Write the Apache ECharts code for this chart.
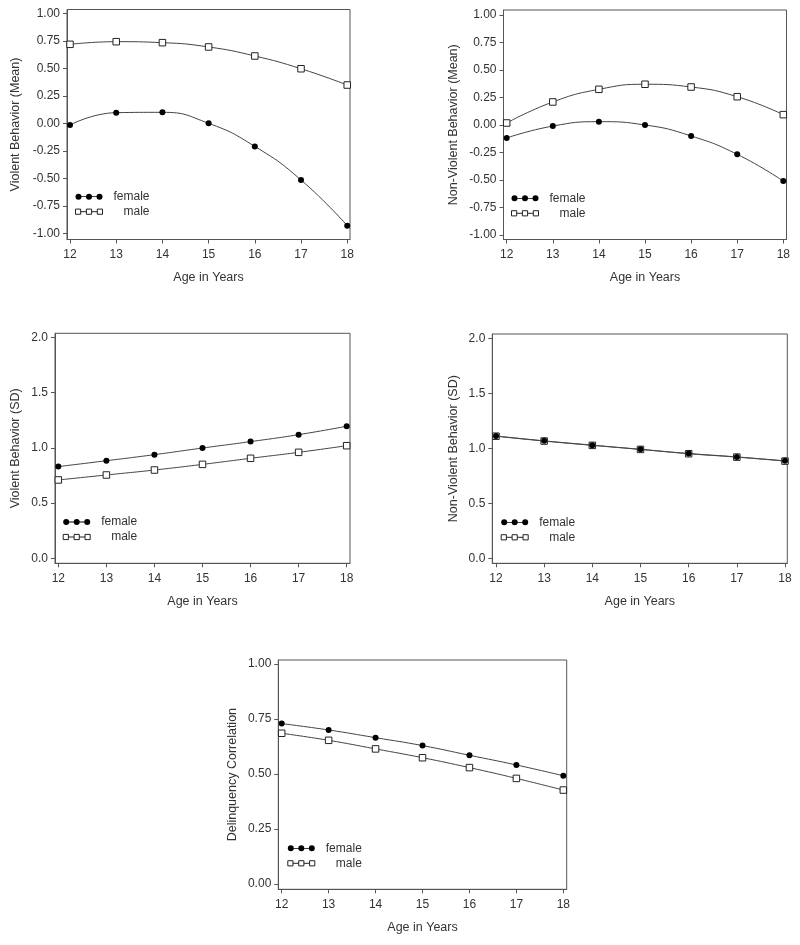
<!DOCTYPE html>
<html>
<head>
<meta charset="utf-8">
<script src="https://cdn.jsdelivr.net/npm/echarts@6/dist/echarts.min.js"></script>
<style>
html,body{margin:0;padding:0;background:#fff;}
#chart{width:800px;height:945px;}
</style>
</head>
<body>
<div id="chart"></div>
<script>
// ---- data ----
var ages = [12, 13, 14, 15, 16, 17, 18];
var seriesNames = ['female', 'male'];

var violentMeanFemale = [-0.015, 0.097, 0.10, 0.0, -0.21, -0.515, -0.93];
var violentMeanMale = [0.718, 0.742, 0.733, 0.694, 0.612, 0.496, 0.348];

var nonViolentMeanFemale = [-0.118, -0.01, 0.03, 0.0, -0.10, -0.267, -0.51];
var nonViolentMeanMale = [0.018, 0.209, 0.324, 0.37, 0.345, 0.257, 0.094];

var violentSDFemale = [0.83, 0.883, 0.938, 0.998, 1.056, 1.119, 1.195];
var violentSDMale = [0.709, 0.754, 0.799, 0.850, 0.905, 0.959, 1.019];

var nonViolentSDFemale = [1.112, 1.068, 1.029, 0.991, 0.953, 0.922, 0.886];
var nonViolentSDMale = [1.110, 1.066, 1.027, 0.990, 0.951, 0.920, 0.884];

var corrFemale = [0.729, 0.70, 0.665, 0.629, 0.585, 0.541, 0.492];
var corrMale = [0.685, 0.653, 0.614, 0.574, 0.529, 0.480, 0.427];

var meanTicks = [-1.00, -0.75, -0.50, -0.25, 0.00, 0.25, 0.50, 0.75, 1.00];
var sdTicks = [0.0, 0.5, 1.0, 1.5, 2.0];
var corrTicks = [0.00, 0.25, 0.50, 0.75, 1.00];

var xAxisTitle = 'Age in Years';
var yTitles = ['Violent Behavior (Mean)', 'Non-Violent Behavior (Mean)', 'Violent Behavior (SD)', 'Non-Violent Behavior (SD)', 'Delinquency Correlation'];

// ---- layout ----
var FONT = '"Liberation Sans", Arial, sans-serif';
var TEXT = '#333';
var AXIS = '#555';

var panels = [
  {grid: {left: 67, top: 9.5, width: 283, height: 230}, x: [11.935, 18.06], y: [-1.056, 1.0345], ticks: meanTicks, dec: 2, yGap: 45, female: violentMeanFemale, male: violentMeanMale, legend: {left: 75, top: 190.7}},
  {grid: {left: 503.5, top: 10, width: 283, height: 229.5}, x: [11.931, 18.069], y: [-1.041, 1.045], ticks: meanTicks, dec: 2, yGap: 43.5, female: nonViolentMeanFemale, male: nonViolentMeanMale, legend: {left: 511, top: 192.3}},
  {grid: {left: 55, top: 333.3, width: 295, height: 230}, x: [11.931, 18.069], y: [-0.045, 2.036], ticks: sdTicks, dec: 1, yGap: 33, female: violentSDFemale, male: violentSDMale, legend: {left: 62.7, top: 516}},
  {grid: {left: 492.3, top: 334, width: 295, height: 229.3}, x: [11.923, 18.048], y: [-0.045, 2.039], ticks: sdTicks, dec: 1, yGap: 32.5, female: nonViolentSDFemale, male: nonViolentSDMale, legend: {left: 500.7, top: 516.3}},
  {grid: {left: 278.3, top: 660, width: 288.4, height: 229.3}, x: [11.928, 18.072], y: [-0.024, 1.018], ticks: corrTicks, dec: 2, yGap: 39.5, female: corrFemale, male: corrMale, legend: {left: 287.3, top: 842.3}}
];

function pairs(vals) {
  return ages.map(function (a, i) { return [a, vals[i]]; });
}

var femaleIcon = 'path://M0 2.6L27 2.6L27 3.4L0 3.4Z' +
  'M0 3A3 3 0 1 1 6 3A3 3 0 1 1 0 3Z' +
  'M10.5 3A3 3 0 1 1 16.5 3A3 3 0 1 1 10.5 3Z' +
  'M21 3A3 3 0 1 1 27 3A3 3 0 1 1 21 3Z';
var maleIcon = 'path://M0.5 0.5L5.5 0.5L5.5 5.5L0.5 5.5Z' +
  'M5.5 3L11 3' +
  'M11 0.5L16 0.5L16 5.5L11 5.5Z' +
  'M16 3L21.5 3' +
  'M21.5 0.5L26.5 0.5L26.5 5.5L21.5 5.5Z';

var option = {
  backgroundColor: '#fff',
  animation: false,
  textStyle: {fontFamily: FONT, color: TEXT},
  grid: [], xAxis: [], yAxis: [], series: [], legend: []
};

panels.forEach(function (p, i) {
  option.grid.push({
    left: p.grid.left, top: p.grid.top, width: p.grid.width, height: p.grid.height,
    show: true, borderColor: AXIS, borderWidth: 1, backgroundColor: 'transparent'
  });
  option.xAxis.push({
    type: 'value', gridIndex: i, min: p.x[0], max: p.x[1],
    name: xAxisTitle, nameLocation: 'middle', nameGap: 32,
    nameTextStyle: {fontFamily: FONT, fontSize: 12.5, color: TEXT},
    axisLine: {show: true, onZero: false, lineStyle: {color: AXIS, width: 1}},
    axisTick: {show: true, length: 4, customValues: ages, lineStyle: {color: AXIS}},
    axisLabel: {customValues: ages, margin: 9, fontFamily: FONT, fontSize: 12, color: TEXT,
      formatter: function (v) { return String(Math.round(v)); }},
    splitLine: {show: false}
  });
  option.yAxis.push({
    type: 'value', gridIndex: i, min: p.y[0], max: p.y[1],
    name: yTitles[i], nameLocation: 'middle', nameGap: p.yGap,
    nameTextStyle: {fontFamily: FONT, fontSize: 12.5, color: TEXT},
    axisLine: {show: true, onZero: false, lineStyle: {color: AXIS, width: 1}},
    axisTick: {show: true, length: 4, customValues: p.ticks, lineStyle: {color: AXIS}},
    axisLabel: {customValues: p.ticks, margin: 7, fontFamily: FONT, fontSize: 12, color: TEXT,
      formatter: (function (d) { return function (v) { return v.toFixed(d); }; })(p.dec)},
    splitLine: {show: false}
  });
  option.series.push({
    name: 'male', type: 'line', xAxisIndex: i, yAxisIndex: i,
    data: pairs(p.male), smooth: 0.5, symbol: 'rect', symbolSize: 6.5, showAllSymbol: true,
    lineStyle: {color: '#444', width: 1},
    itemStyle: {color: '#fff', borderColor: '#222', borderWidth: 1},
    z: 2
  });
  option.series.push({
    name: 'female', type: 'line', xAxisIndex: i, yAxisIndex: i,
    data: pairs(p.female), smooth: 0.5, symbol: 'circle', symbolSize: 6, showAllSymbol: true,
    lineStyle: {color: '#444', width: 1},
    itemStyle: {color: '#000', borderWidth: 0},
    z: 3
  });
  option.legend.push({
    left: p.legend.left, top: p.legend.top, orient: 'vertical',
    itemWidth: 27, itemHeight: 6, itemGap: 3, padding: 0,
    selectedMode: false,
    formatter: function (name) { return '{t|' + name + '}'; },
    textStyle: {fontFamily: FONT, fontSize: 12, color: TEXT,
      rich: {t: {width: 42, align: 'right', fontFamily: FONT, fontSize: 12, color: TEXT, lineHeight: 12}}},
    data: [
      {name: seriesNames[0], icon: femaleIcon, itemStyle: {color: '#000', borderColor: '#000', borderWidth: 0}},
      {name: seriesNames[1], icon: maleIcon, itemStyle: {color: '#fff', borderColor: '#222', borderWidth: 1}}
    ]
  });
});

var chart = echarts.init(document.getElementById('chart'), null, {renderer: 'canvas'});
chart.setOption(option);
</script>
</body>
</html>
